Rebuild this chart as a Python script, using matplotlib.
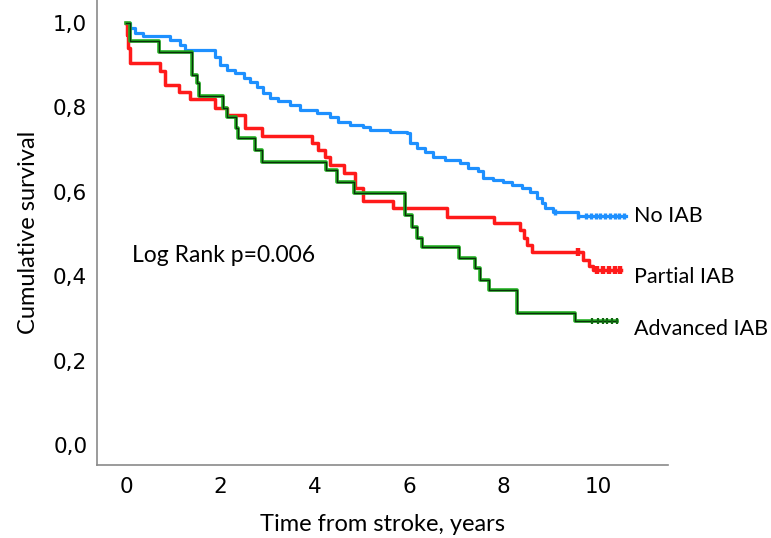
import matplotlib
matplotlib.use("Agg")
import matplotlib.pyplot as plt

# ---- data ----
no_iab_times = [0.08, 0.19, 0.37, 0.93, 1.14, 1.25, 1.89, 1.99, 2.13, 2.31, 2.49, 2.63, 2.77, 2.91,
                3.05, 3.23, 3.47, 3.69, 4.04, 4.32, 4.50, 4.75, 5.03, 5.17, 5.59, 5.95, 6.02, 6.16,
                6.33, 6.51, 6.76, 7.08, 7.25, 7.46, 7.57, 7.78, 7.99, 8.17, 8.38, 8.56, 8.70, 8.81,
                8.88, 9.05, 9.58]
no_iab_surv = [0.987, 0.976, 0.968, 0.960, 0.948, 0.936, 0.920, 0.900, 0.889, 0.881,
               0.869, 0.861, 0.849, 0.834, 0.822, 0.814, 0.806, 0.794, 0.786, 0.778,
               0.766, 0.758, 0.754, 0.746, 0.742, 0.738, 0.715, 0.703, 0.695, 0.683,
               0.675, 0.668, 0.656, 0.648, 0.632, 0.628, 0.624, 0.616, 0.608, 0.600,
               0.585, 0.573, 0.561, 0.553, 0.543]
no_iab_end = 10.59
no_iab_censor = [9.09, 9.58, 9.75, 9.85, 9.95, 10.05, 10.15, 10.25, 10.35, 10.45, 10.55]

partial_times = [0.02, 0.05, 0.08, 0.72, 0.83, 1.13, 1.36, 1.88, 2.14, 2.52, 2.88, 3.93, 4.07,
                 4.21, 4.33, 4.61, 4.85, 5.01, 5.66, 6.79, 7.80, 8.35, 8.42, 8.49, 8.59, 9.69,
                 9.80, 9.89]
partial_surv = [0.97, 0.94, 0.904, 0.885, 0.853, 0.837, 0.819, 0.798, 0.782, 0.750, 0.732,
                0.715, 0.699, 0.683, 0.664, 0.644, 0.608, 0.578, 0.561, 0.541, 0.525, 0.509,
                0.490, 0.474, 0.458, 0.438, 0.423, 0.415]
partial_end = 10.49
partial_censor = [9.58, 9.97, 10.10, 10.22, 10.35, 10.47]

advanced_times = [0.08, 0.70, 1.39, 1.50, 1.55, 2.06, 2.13, 2.32, 2.37, 2.73, 2.88, 4.24, 4.46,
                  4.84, 5.91, 6.05, 6.17, 6.27, 7.06, 7.39, 7.50, 7.68, 8.28, 9.51]
advanced_surv = [0.956, 0.931, 0.877, 0.858, 0.827, 0.799, 0.777, 0.751, 0.727, 0.699, 0.671,
                 0.652, 0.622, 0.597, 0.545, 0.517, 0.490, 0.468, 0.442, 0.419, 0.391, 0.367,
                 0.312, 0.293]
advanced_end = 10.40
advanced_censor = [9.87, 10.00, 10.11, 10.19, 10.29, 10.40]

group_labels = ["No IAB", "Partial IAB", "Advanced IAB"]
label_y = [0.543, 0.398, 0.274]
x_ticks = [0, 2, 4, 6, 8, 10]
y_ticks = [0.0, 0.2, 0.4, 0.6, 0.8, 1.0]
y_ticklabels = ["0,0", "0,2", "0,4", "0,6", "0,8", "1,0"]
annotation = "Log Rank p=0.006"

# ---- figure ----
fig = plt.figure(figsize=(7.71, 5.38), dpi=100)
ax = fig.add_axes([0.1258, 0.1357, 0.7406, 0.8643])

def km(times, surv, end):
    t = [0.0] + list(times) + [end]
    s = [1.0] + list(surv) + [surv[-1]]
    return t, s

def censor_y(times, surv, cens):
    out = []
    for c in cens:
        v = 1.0
        for tt, ss in zip(times, surv):
            if tt <= c:
                v = ss
        out.append(v)
    return out

blue = "#1e90ff"
red = "#ff1a1a"
green = "#22b022"

t, s = km(no_iab_times, no_iab_surv, no_iab_end)
ax.plot(t, s, drawstyle="steps-post", color=blue, lw=2.3, zorder=3)
ax.plot(no_iab_censor, censor_y(no_iab_times, no_iab_surv, no_iab_censor), ls="none",
        marker="|", ms=5, mew=2.4, color=blue, zorder=3)

t, s = km(partial_times, partial_surv, partial_end)
ax.plot(t, s, drawstyle="steps-post", color=red, lw=2.5, zorder=4)
ax.plot(partial_censor, censor_y(partial_times, partial_surv, partial_censor), ls="none",
        marker="|", ms=6, mew=3.2, color=red, zorder=4)

t, s = km(advanced_times, advanced_surv, advanced_end)
ax.plot(t, s, drawstyle="steps-post", color=green, lw=2.6, zorder=5)
ax.plot(t, s, drawstyle="steps-post", color="#0b300b", lw=1.0, zorder=6)
ax.plot(advanced_censor, censor_y(advanced_times, advanced_surv, advanced_censor), ls="none",
        marker="|", ms=5, mew=1.6, color="#116611", zorder=6)

ax.set_xlim(-0.614, 11.48)
ax.set_ylim(-0.047, 1.054)
ax.set_xticks(x_ticks)
ax.set_xticklabels([str(v) for v in x_ticks], fontsize=15.5, family="DejaVu Sans")
ax.set_yticks(y_ticks)
ax.set_yticklabels(y_ticklabels, fontsize=15.5, family="DejaVu Sans")
ax.tick_params(length=0, pad=7)
ax.tick_params(axis="x", pad=9)
for side in ["top", "right"]:
    ax.spines[side].set_visible(False)
for side in ["left", "bottom"]:
    ax.spines[side].set_color("#8a8a8a")
    ax.spines[side].set_linewidth(1.2)

ax.set_xlabel("Time from stroke, years", fontsize=17, family="Lato", labelpad=12)
ax.set_ylabel("Cumulative survival", fontsize=17, family="Lato", labelpad=10)

for lab, yy in zip(group_labels, label_y):
    ax.text(10.75, yy, lab, fontsize=15.5, family="Lato", va="center", ha="left",
            clip_on=False)

ax.text(0.13, 0.45, annotation, fontsize=16.5, family="Lato", va="center", ha="left")

fig.savefig("out.png", dpi=100)
